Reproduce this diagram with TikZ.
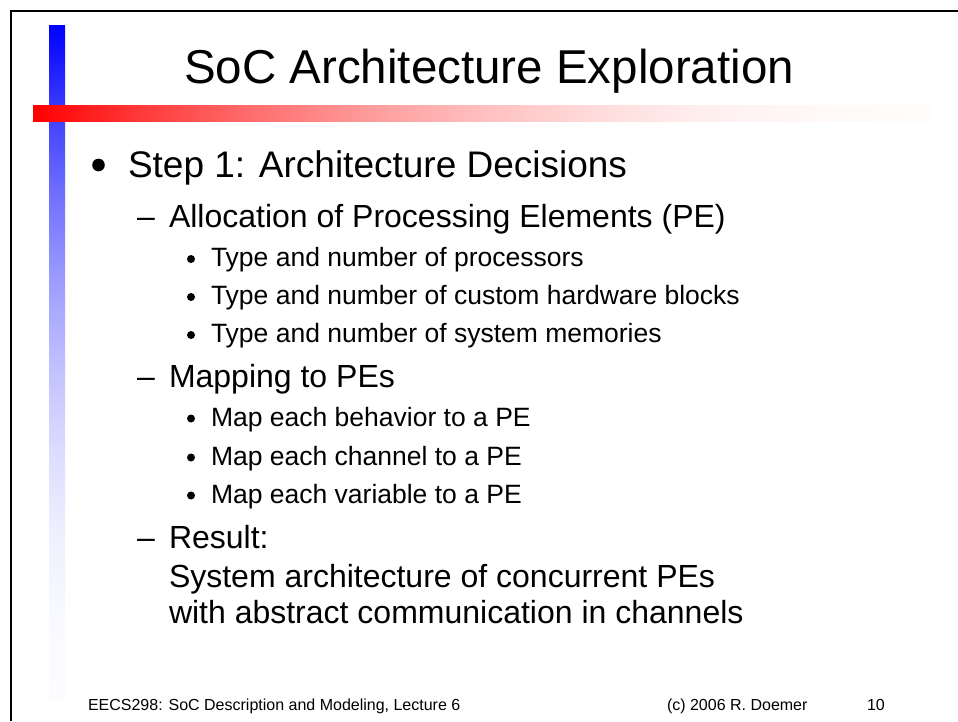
\documentclass[tikz,border=0pt]{standalone}
\usepackage{fontspec}
\setmainfont{Liberation Sans}

% Accent bars: solid colour fading to white (stops laid out on the 25bp--75bp span)
\pgfdeclarehorizontalshading{redfade}{100bp}{%
  rgb(0bp)=(1,0,0); rgb(25bp)=(1,0,0);
  rgb(31.25bp)=(1,.234,.234); rgb(37.5bp)=(1,.4375,.4375);
  rgb(43.75bp)=(1,.609,.609); rgb(50bp)=(1,.75,.75);
  rgb(56.25bp)=(1,.859,.859); rgb(62.5bp)=(1,.9375,.9375);
  rgb(68.75bp)=(1,.975,.975); rgb(75bp)=(1,.99,.99); rgb(100bp)=(1,.99,.99)}
\pgfdeclareverticalshading{bluefade}{100bp}{%
  rgb(0bp)=(.99,.99,1); rgb(25bp)=(.99,.99,1);
  rgb(31.25bp)=(.975,.975,1); rgb(37.5bp)=(.9375,.9375,1);
  rgb(43.75bp)=(.859,.859,1); rgb(50bp)=(.75,.75,1);
  rgb(56.25bp)=(.609,.609,1); rgb(62.5bp)=(.4375,.4375,1);
  rgb(68.75bp)=(.234,.234,1); rgb(75bp)=(0,0,1); rgb(100bp)=(0,0,1)}

\tikzset{
  txt/.style={anchor=base west, inner sep=0pt, outer sep=0pt, text=black},
  lvlone/.style={txt, font=\fontsize{37}{44}\selectfont},
  lvltwo/.style={txt, font=\fontsize{32}{38}\selectfont},
  lvlthree/.style={txt, font=\fontsize{26.5}{32}\selectfont},
  foot/.style={txt, font=\fontsize{16}{19}\selectfont},
  bigdot/.style={fill=black, draw=none},
}

\begin{document}
\begin{tikzpicture}[x=1pt, y=-1pt]
  \useasboundingbox (0,0) rectangle (958,721);
  \fill[white] (0,0) rectangle (958,721);

  % slide frame (left and top edges)
  \draw[line width=2pt, line join=miter] (10.5,721) -- (10.5,10.5) -- (958,10.5);

  % accent bars
  \shade[shading=bluefade] (49,25) rectangle (65,700);
  \shade[shading=redfade] (33,105) rectangle (930,121);

  % title
  \node[anchor=base, inner sep=0pt, font=\fontsize{47.5}{57}\selectfont] (title) at (489,83) {SoC Architecture Exploration};

  % level 1
  \fill[bigdot] (98.5,165) circle (6.3);
  \node[lvlone] (step) at (128,177) {Step 1: Architecture Decisions};

  % allocation
  \node[lvltwo] (dashA) at (137,227) {–};
  \node[lvltwo] (alloc) at (169,227) {Allocation of Processing Elements (PE)};
  \fill[bigdot] (191,259) circle (4);
  \node[lvlthree] (procs) at (211,266) {Type and number of processors};
  \fill[bigdot] (191,297) circle (4);
  \node[lvlthree] (hwb) at (211,304) {Type and number of custom hardware blocks};
  \fill[bigdot] (191,335) circle (4);
  \node[lvlthree] (mems) at (211,342) {Type and number of system memories};

  % mapping
  \node[lvltwo] (dashM) at (137,387) {–};
  \node[lvltwo] (mapping) at (169,387) {Mapping to PEs};
  \fill[bigdot] (191,418.5) circle (4);
  \node[lvlthree] (mbeh) at (211,426) {Map each behavior to a PE};
  \fill[bigdot] (191,457.5) circle (4);
  \node[lvlthree] (mchan) at (211,465) {Map each channel to a PE};
  \fill[bigdot] (191,495.5) circle (4);
  \node[lvlthree] (mvar) at (211,503) {Map each variable to a PE};

  % result
  \node[lvltwo] (dashR) at (137,548) {–};
  \node[lvltwo] (result) at (169,548) {Result:};
  \node[lvltwo] (resA) at (169,587) {System architecture of concurrent PEs};
  \node[lvltwo] (resB) at (169,623) {with abstract communication in channels};

  % footer
  \node[foot] (course) at (88,710) {EECS298: SoC Description and Modeling, Lecture 6};
  \node[foot] (copy) at (667,710) {(c) 2006 R. Doemer};
  \node[foot] (page) at (867,710) {10};
\end{tikzpicture}
\end{document}
